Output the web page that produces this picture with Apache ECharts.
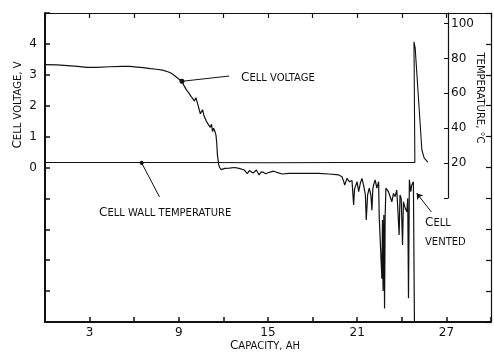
<!DOCTYPE html>
<html>
<head>
<meta charset="utf-8">
<script src="https://cdn.jsdelivr.net/npm/echarts@6/dist/echarts.min.js"></script>
<style>
  html, body { margin: 0; padding: 0; background: #fff; }
  #chart { width: 494px; height: 355px; }
</style>
</head>
<body>
<div id="chart"></div>
<script>
// Discharge test: cell voltage and cell wall temperature versus capacity.
const capacityTicks = [3, 9, 15, 21, 27];
const voltageTicks = [0, 1, 2, 3, 4];
const temperatureTicks = [20, 40, 60, 80, 100];

// [capacity Ah, cell voltage V]
const cellVoltage = [
  [0, 3.33], [0.8, 3.32], [1.5, 3.3], [2.2, 3.27], [2.8, 3.24], [3.5, 3.24],
  [4.35, 3.26], [5.2, 3.27], [5.7, 3.27], [6.2, 3.25], [6.6, 3.23], [7.1, 3.2],
  [7.5, 3.18], [7.9, 3.15], [8.26, 3.1], [8.5, 3.05], [8.7, 2.98], [8.95, 2.88],
  [9.2, 2.79], [9.35, 2.65], [9.5, 2.52], [9.65, 2.43], [9.82, 2.3], [9.95, 2.22],
  [10.05, 2.15], [10.15, 2.26], [10.22, 2.22], [10.3, 2.0], [10.38, 1.86],
  [10.45, 1.74], [10.5, 1.7], [10.6, 1.87], [10.68, 1.7], [10.83, 1.52],
  [10.95, 1.42], [11.05, 1.44], [11.12, 1.3], [11.2, 1.4], [11.27, 1.16],
  [11.34, 1.27], [11.42, 1.18], [11.5, 1.05], [11.55, 0.8], [11.6, 0.4],
  [11.68, 0.1], [11.75, 0.0], [11.85, -0.07], [11.95, -0.08], [12.1, -0.03],
  [12.4, -0.02], [12.75, 0.0], [13.05, -0.03], [13.4, -0.08], [13.6, -0.2],
  [13.75, -0.1], [13.85, -0.08], [14.0, -0.18], [14.1, -0.2], [14.22, -0.08],
  [14.4, -0.24], [14.55, -0.14], [14.7, -0.16], [14.85, -0.2], [15.0, -0.17],
  [15.2, -0.14], [15.4, -0.12], [15.6, -0.16], [15.96, -0.21], [16.4, -0.19],
  [17.3, -0.19], [18.4, -0.19], [19.1, -0.21], [19.76, -0.24], [19.98, -0.3],
  [20.09, -0.45], [20.16, -0.57], [20.31, -0.35], [20.47, -0.46], [20.54, -0.51],
  [20.65, -0.42], [20.76, -1.21], [20.82, -0.7], [20.88, -0.67], [20.99, -0.46],
  [21.1, -0.78], [21.21, -0.51], [21.32, -0.35], [21.43, -0.57], [21.55, -0.89],
  [21.61, -1.7], [21.7, -0.89], [21.81, -0.67], [21.92, -0.89], [21.99, -1.38],
  [22.05, -0.7], [22.1, -0.57], [22.21, -0.4], [22.32, -0.67], [22.44, -0.46],
  [22.48, -1.59], [22.55, -1.54], [22.61, -1.65], [22.66, -3.6], [22.7, -1.7],
  [22.74, -4.0], [22.79, -1.54], [22.84, -4.56], [22.88, -1.6], [22.93, -0.67],
  [22.99, -0.62], [23.1, -0.78], [23.22, -0.73], [23.33, -1.11], [23.44, -0.84],
  [23.55, -0.94], [23.66, -0.73], [23.73, -1.32], [23.82, -2.18], [23.88, -0.89],
  [23.96, -1.0], [24.05, -2.51], [24.11, -1.11], [24.23, -1.32], [24.34, -1.43],
  [24.4, -1.0], [24.45, -4.23], [24.51, -0.4], [24.6, -0.78], [24.67, -0.57],
  [24.78, -0.46], [24.85, -5.0]
];

// [capacity Ah, cell wall temperature °C]
const wallTemperature = [
  [0, 20.3], [5, 20.3], [10, 20.3], [15, 20.2], [20, 20.3], [24.78, 20.3],
  [24.72, 89.5], [24.8, 86], [25.25, 27.5], [25.4, 23], [25.65, 20.6]
];

const INK = '#111';
const FONT = 'DejaVu Sans';
const smallCaps = {
  big: { fontSize: 12, fontFamily: FONT, fill: INK },
  sm: { fontSize: 10, fontFamily: FONT, fill: INK }
};

const chart = echarts.init(document.getElementById('chart'), null, { renderer: 'canvas' });

const axisText = { color: INK, fontFamily: FONT, fontSize: 12 };

chart.setOption({
  animation: false,
  backgroundColor: '#fff',
  grid: [
    { left: 45, right: 1, top: 13, bottom: 33 },
    { left: 45, right: 46, top: 13, bottom: 157 }
  ],
  xAxis: [
    {
      gridIndex: 0, type: 'value', min: 0, max: 30, interval: 3,
      axisLine: { onZero: false, lineStyle: { color: INK, width: 2 } },
      axisTick: { inside: true, length: 5, lineStyle: { color: INK, width: 1.5 } },
      axisLabel: Object.assign({ margin: 5, formatter: v => capacityTicks.includes(v) ? String(v) : '' }, axisText),
      splitLine: { show: false }
    },
    {
      gridIndex: 0, type: 'value', position: 'top', min: 0, max: 30, interval: 3,
      axisLine: { onZero: false, lineStyle: { color: INK, width: 1.2 } },
      axisTick: { inside: true, length: 5, lineStyle: { color: INK, width: 1.2 } },
      axisLabel: { show: false },
      splitLine: { show: false }
    },
    {
      gridIndex: 1, type: 'value', min: 0, max: 27, show: false,
      axisLine: { onZero: false }
    }
  ],
  yAxis: [
    {
      gridIndex: 0, type: 'value', min: -5, max: 5, interval: 1,
      axisLine: { onZero: false, lineStyle: { color: INK, width: 2 } },
      axisTick: { inside: true, length: 5, lineStyle: { color: INK, width: 1.5 } },
      axisLabel: Object.assign({ margin: 8, formatter: v => voltageTicks.includes(v) ? String(v) : '' }, axisText),
      splitLine: { show: false }
    },
    {
      gridIndex: 0, type: 'value', position: 'right', min: -5, max: 5, interval: 1,
      axisLine: { onZero: false, lineStyle: { color: INK, width: 1.2 } },
      axisTick: { inside: true, length: 5, lineStyle: { color: INK, width: 1.2 } },
      axisLabel: { show: false },
      splitLine: { show: false }
    },
    {
      gridIndex: 1, type: 'value', position: 'right', min: 0, max: 106, interval: 20,
      axisLine: { onZero: false, lineStyle: { color: INK, width: 1.2 } },
      axisTick: { inside: true, length: 4, lineStyle: { color: INK, width: 1 } },
      axisLabel: Object.assign({ margin: 3, formatter: v => temperatureTicks.includes(v) ? String(v) : '' }, axisText),
      splitLine: { show: false }
    }
  ],
  series: [
    {
      name: 'Cell voltage', type: 'line', xAxisIndex: 0, yAxisIndex: 0,
      data: cellVoltage, showSymbol: false, symbol: 'none', clip: true,
      lineStyle: { color: INK, width: 1.2 },
      markLine: {
        silent: true, animation: false,
        lineStyle: { color: INK, width: 1, type: 'solid' },
        label: { show: false },
        data: [
          [
            { coord: [12.39, 2.96], symbol: 'none' },
            { coord: [9.21, 2.79], symbol: 'circle', symbolSize: 5 }
          ],
          [
            { coord: [25.99, -1.44], symbol: 'none' },
            { coord: [25.0, -0.83], symbol: 'arrow', symbolSize: 6 }
          ],
          [
            { coord: [7.7, -0.95], symbol: 'none' },
            { coord: [6.5, 0.15], symbol: 'circle', symbolSize: 4 }
          ]
        ]
      }
    },
    {
      name: 'Cell wall temperature', type: 'line', xAxisIndex: 2, yAxisIndex: 2,
      data: wallTemperature, showSymbol: false, symbol: 'none',
      lineStyle: { color: INK, width: 1.1 }
    }
  ],
  graphic: [
    {
      type: 'text', x: 18, y: 105, rotation: Math.PI / 2,
      style: { text: '{big|C}{sm|ELL VOLTAGE, V}', rich: smallCaps, align: 'center', verticalAlign: 'middle' }
    },
    {
      type: 'text', x: 265, y: 346,
      style: { text: '{big|C}{sm|APACITY, AH}', rich: smallCaps, align: 'center', verticalAlign: 'middle' }
    },
    {
      type: 'text', x: 480, y: 98, rotation: -Math.PI / 2,
      style: { text: '{sm|TEMPERATURE, °C}', rich: smallCaps, align: 'center', verticalAlign: 'middle' }
    },
    {
      type: 'text', x: 241, y: 78,
      style: { text: '{big|C}{sm|ELL VOLTAGE}', rich: smallCaps, align: 'left', verticalAlign: 'middle' }
    },
    {
      type: 'text', x: 99, y: 213,
      style: { text: '{big|C}{sm|ELL WALL TEMPERATURE}', rich: smallCaps, align: 'left', verticalAlign: 'middle' }
    },
    {
      type: 'text', x: 425, y: 223,
      style: { text: '{big|C}{sm|ELL}', rich: smallCaps, align: 'left', verticalAlign: 'middle' }
    },
    {
      type: 'text', x: 425, y: 242,
      style: { text: '{sm|VENTED}', rich: smallCaps, align: 'left', verticalAlign: 'middle' }
    }
  ]
});
</script>
</body>
</html>
